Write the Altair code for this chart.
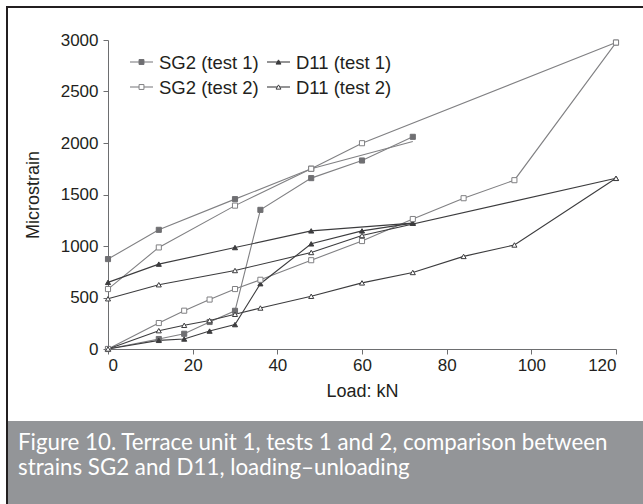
import altair as alt
import pandas as pd

SERIES = ["SG2 (test 1)", "D11 (test 1)", "SG2 (test 2)", "D11 (test 2)"]

# Gauge SG2, test 1
sg2_t1_load_kn = [0, 12, 18, 24, 30, 36, 48, 60, 72]
sg2_t1_load_ue = [0, 97, 148, 262, 371, 1351, 1659, 1830, 2060]
sg2_t1_unload_kn = [72, 48, 30, 12, 0]
sg2_t1_unload_ue = [2015, 1750, 1455, 1157, 873]
sg2_t1_unload_marks = [False, True, True, True, True]

# Gauge SG2, test 2
sg2_t2_load_kn = [0, 12, 18, 24, 30, 36, 48, 60, 72, 84, 96, 120]
sg2_t2_load_ue = [0, 252, 372, 480, 582, 672, 862, 1048, 1262, 1464, 1639, 2975]
sg2_t2_unload_kn = [120, 60, 48, 30, 12, 0]
sg2_t2_unload_ue = [2975, 1998, 1750, 1392, 986, 582]

# Gauge D11, test 1
d11_t1_load_kn = [0, 12, 18, 24, 30, 36, 48, 60, 72]
d11_t1_load_ue = [0, 84, 97, 174, 237, 634, 1021, 1147, 1222]
d11_t1_unload_kn = [72, 48, 30, 12, 0]
d11_t1_unload_ue = [1222, 1147, 985, 824, 647]

# Gauge D11, test 2
d11_t2_load_kn = [0, 12, 18, 24, 30, 36, 48, 60, 72, 84, 96, 120]
d11_t2_load_ue = [0, 178, 230, 276, 337, 398, 512, 642, 743, 899, 1010, 1657]
d11_t2_unload_kn = [120, 60, 48, 30, 12, 0]
d11_t2_unload_ue = [1657, 1102, 937, 762, 624, 488]

x_ticks = [0, 20, 40, 60, 80, 100, 120]
y_ticks = [0, 500, 1000, 1500, 2000, 2500, 3000]

CAPTION = ("Figure 10. Terrace unit 1, tests 1 and 2, comparison between\n"
           "strains SG2 and D11, loading\u2013unloading")

rows = []


def add(series, phase, loads, strains, marks=None):
    for i, (kn, ue) in enumerate(zip(loads, strains)):
        rows.append({
            "series": series,
            "path": f"{series} {phase}",
            "step": i,
            "load": kn,
            "strain": ue,
            "marker": True if marks is None else marks[i],
        })


add("SG2 (test 1)", "loading", sg2_t1_load_kn, sg2_t1_load_ue)
add("SG2 (test 1)", "unloading", sg2_t1_unload_kn, sg2_t1_unload_ue, sg2_t1_unload_marks)
add("SG2 (test 2)", "loading", sg2_t2_load_kn, sg2_t2_load_ue)
add("SG2 (test 2)", "unloading", sg2_t2_unload_kn, sg2_t2_unload_ue)
add("D11 (test 1)", "loading", d11_t1_load_kn, d11_t1_load_ue)
add("D11 (test 1)", "unloading", d11_t1_unload_kn, d11_t1_unload_ue)
add("D11 (test 2)", "loading", d11_t2_load_kn, d11_t2_load_ue)
add("D11 (test 2)", "unloading", d11_t2_unload_kn, d11_t2_unload_ue)

df = pd.DataFrame(rows)
one = pd.DataFrame({"k": [0]})

SG_LINE = "#808083"
SG_MARK = "#6f6f72"
D_LINE = "#3c3c3e"

style = {
    "SG2 (test 1)": dict(line=SG_LINE, shape="square", fill=SG_MARK, stroke=SG_MARK),
    "SG2 (test 2)": dict(line=SG_LINE, shape="square", fill="#ffffff", stroke=SG_LINE),
    "D11 (test 1)": dict(line=D_LINE, shape="triangle-up", fill=D_LINE, stroke=D_LINE),
    "D11 (test 2)": dict(line=D_LINE, shape="triangle-up", fill="#ffffff", stroke=D_LINE),
}

FONT = "Liberation Sans"
TEXT = "#231f20"

x_enc = alt.X(
    "load:Q",
    scale=alt.Scale(domain=[0, 120], nice=False),
    axis=alt.Axis(values=x_ticks, title="Load: kN", format="d"),
)
y_enc = alt.Y(
    "strain:Q",
    scale=alt.Scale(domain=[0, 3000], nice=False),
    axis=alt.Axis(values=y_ticks, title="Microstrain", format="d"),
)

base = alt.Chart(df)

lines = base.mark_line(strokeWidth=1.1).encode(
    x=x_enc,
    y=y_enc,
    color=alt.Color("series:N", scale=alt.Scale(domain=SERIES, range=[style[s]["line"] for s in SERIES]), legend=None),
    detail="path:N",
    order="step:Q",
)


def marker_mark(chart, s, size=26):
    st = style[s]
    return chart.mark_point(shape=st["shape"], fill=st["fill"], stroke=st["stroke"],
                            size=size, strokeWidth=1, opacity=1)


# data markers, one layer per series
marker_layers = [
    marker_mark(base.transform_filter(alt.datum.series == s).transform_filter("datum.marker"), s)
    .encode(x="load:Q", y="strain:Q")
    for s in SERIES
]

# two-column key in the upper left of the plot: line sample, marker, label
deco = alt.Chart(one)
KEY_X = [22, 159]      # left end of each column's line sample
KEY_Y = [22, 47]       # centre of each row
KEY_LINE = 23
KEY_GAP = 6
key_layers = []
for i, s in enumerate(SERIES):
    x0 = KEY_X[i % 2]
    yc = KEY_Y[i // 2]
    key_layers.append(
        deco.mark_rule(color=style[s]["line"], strokeWidth=1.1).encode(
            x=alt.value(x0), x2=alt.value(x0 + KEY_LINE), y=alt.value(yc)
        )
    )
    key_layers.append(marker_mark(deco, s, size=24).encode(x=alt.value(x0 + KEY_LINE / 2), y=alt.value(yc)))
    key_layers.append(
        deco.mark_text(align="left", baseline="middle", font=FONT, fontSize=18.5, color=TEXT).encode(
            x=alt.value(x0 + KEY_LINE + KEY_GAP), y=alt.value(yc + 1), text=alt.value(s)
        )
    )

caption_box = deco.mark_rect(color="#939598").encode(
    x=alt.value(-100), x2=alt.value(535), y=alt.value(381), y2=alt.value(464)
)
frame_left = deco.mark_rule(color="#231f20", strokeWidth=2).encode(
    x=alt.value(-101), y=alt.value(-34), y2=alt.value(464)
)
frame_top = deco.mark_rule(color="#231f20", strokeWidth=2).encode(
    x=alt.value(-102), x2=alt.value(535), y=alt.value(-33)
)
caption = deco.mark_text(
    align="left", baseline="middle", font="Lato", fontSize=22.3, color="#ffffff", lineBreak="\n", lineHeight=24.5
).encode(x=alt.value(-90), y=alt.value(403), text=alt.value(CAPTION))

chart = (
    alt.layer(caption_box, frame_left, frame_top, lines, *marker_layers, *key_layers, caption)
    .properties(
        width=508,
        height=309,
        autosize=alt.AutoSizeParams(type="none"),
        padding={"left": 108, "top": 40, "right": 27, "bottom": 155},
        background="#ffffff",
    )
    .configure_view(strokeWidth=0)
    .configure_axis(
        grid=False,
        domainColor="#6d6e70",
        tickColor="#6d6e70",
        tickSize=5,
        labelFont=FONT,
        labelFontSize=17,
        labelColor=TEXT,
        titleFont=FONT,
        titleFontSize=18,
        titleFontWeight="normal",
        titleColor=TEXT,
    )
    .configure_axisX(labelPadding=3, titlePadding=9)
    .configure_axisY(labelPadding=5, titlePadding=18)
)

chart.save("out.html", embed_options={"renderer": "svg", "actions": False})
